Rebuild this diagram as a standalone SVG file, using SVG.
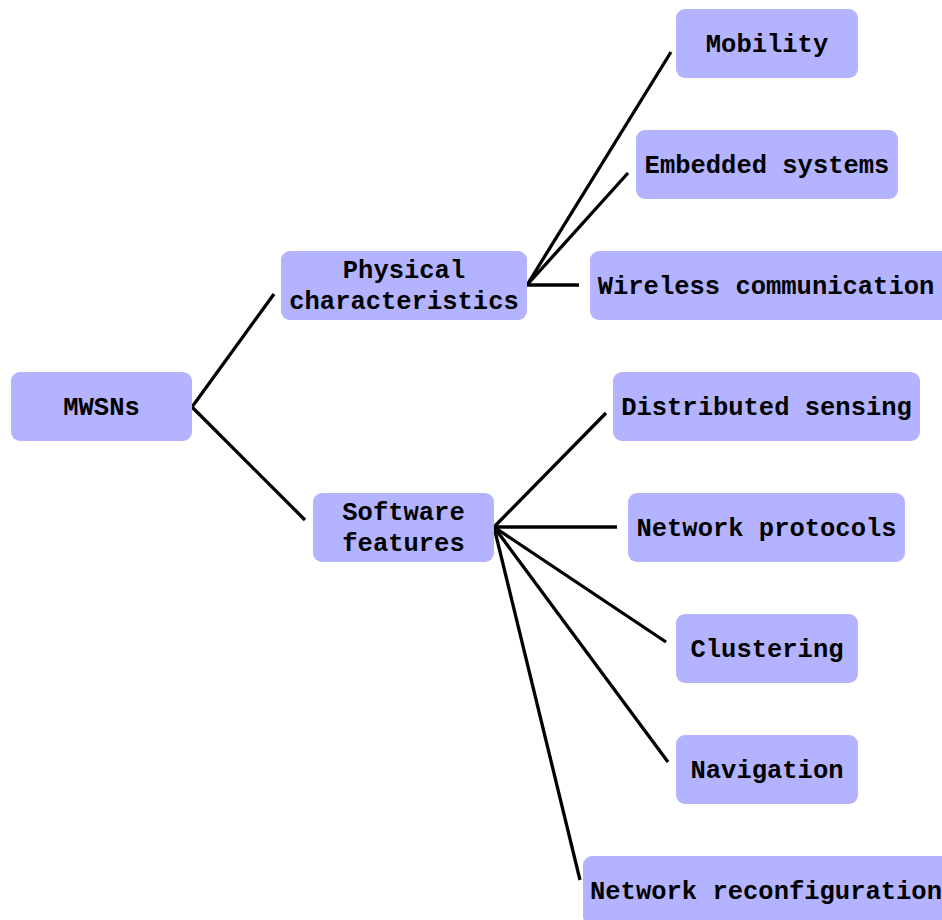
<svg xmlns="http://www.w3.org/2000/svg" width="942" height="920" viewBox="0 0 942 920">
<style>
.box{fill:#b3b3ff;}
.t{font-family:"Liberation Mono","Courier New",monospace;font-weight:bold;font-size:25.5px;fill:#000;text-anchor:middle;}
.c line{stroke:#000;stroke-width:3.3;stroke-linecap:butt;}
</style>
<rect width="942" height="920" fill="#fff"/>
<g class="c" id="connectors">
<line x1="192" y1="407" x2="274" y2="294"/>
<line x1="192" y1="407" x2="305" y2="520"/>
<line x1="527" y1="285" x2="671" y2="52"/>
<line x1="527" y1="285" x2="628" y2="173"/>
<line x1="527" y1="285" x2="579" y2="285"/>
<line x1="494" y1="527" x2="606" y2="413"/>
<line x1="494" y1="527" x2="617" y2="527"/>
<line x1="494" y1="527" x2="666" y2="642"/>
<line x1="494" y1="527" x2="668" y2="762"/>
<line x1="494" y1="527" x2="580" y2="880"/>
</g>
<g id="mwsns"><rect class="box" x="11" y="372" width="181" height="69" rx="9"/><text class="t" x="101.5" y="415">MWSNs</text></g>
<g id="physical"><rect class="box" x="281" y="251" width="246" height="69" rx="9"/><text class="t" x="404" y="278">Physical</text><text class="t" x="404" y="309">characteristics</text></g>
<g id="software"><rect class="box" x="313" y="493" width="181" height="69" rx="9"/><text class="t" x="403.5" y="520">Software</text><text class="t" x="403.5" y="551">features</text></g>
<g id="mobility"><rect class="box" x="676" y="9" width="182" height="69" rx="9"/><text class="t" x="767" y="52">Mobility</text></g>
<g id="embedded"><rect class="box" x="636" y="130" width="262" height="69" rx="9"/><text class="t" x="767" y="173">Embedded systems</text></g>
<g id="wireless"><rect class="box" x="590" y="251" width="360" height="69" rx="9"/><text class="t" x="766" y="294">Wireless communication</text></g>
<g id="distributed"><rect class="box" x="613" y="372" width="307" height="69" rx="9"/><text class="t" x="766.5" y="415">Distributed sensing</text></g>
<g id="protocols"><rect class="box" x="628" y="493" width="277" height="69" rx="9"/><text class="t" x="766.5" y="536">Network protocols</text></g>
<g id="clustering"><rect class="box" x="676" y="614" width="182" height="69" rx="9"/><text class="t" x="767" y="657">Clustering</text></g>
<g id="navigation"><rect class="box" x="676" y="735" width="182" height="69" rx="9"/><text class="t" x="767" y="778">Navigation</text></g>
<g id="reconfig"><rect class="box" x="583" y="856" width="375" height="69" rx="9"/><text class="t" x="766" y="899">Network reconfiguration</text></g>
</svg>
